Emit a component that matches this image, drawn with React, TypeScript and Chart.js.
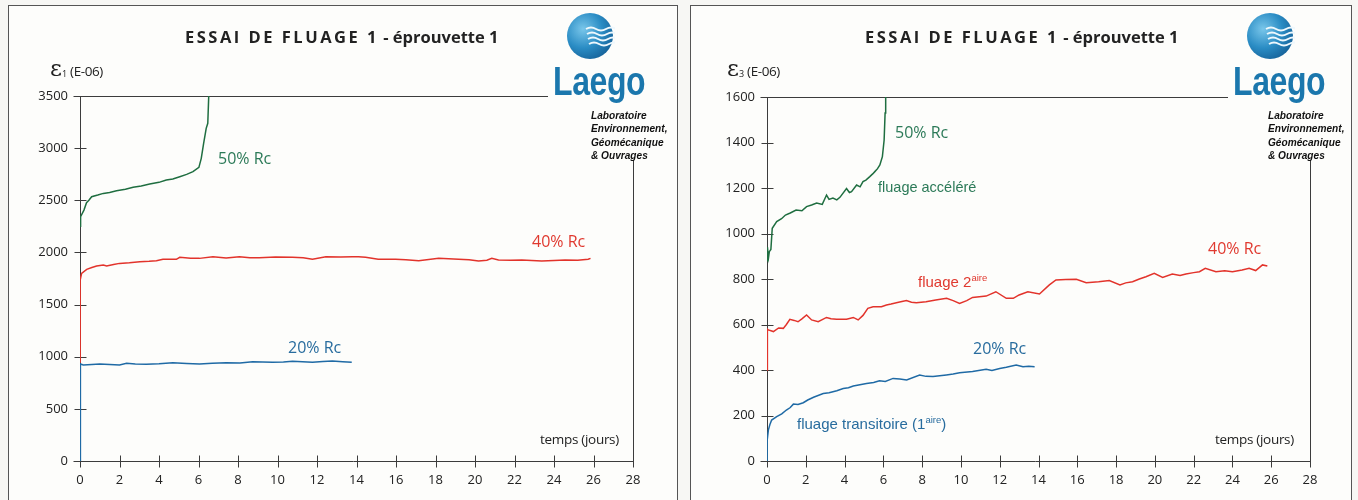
import React, { useEffect, useRef } from "react";
import { Chart, registerables } from "chart.js";
Chart.register(...registerables);

// ---------- data ----------
const xTicks = [0, 2, 4, 6, 8, 10, 12, 14, 16, 18, 20, 22, 24, 26, 28];
const leftYTicks = [0, 500, 1000, 1500, 2000, 2500, 3000, 3500];
const rightYTicks = [0, 200, 400, 600, 800, 1000, 1200, 1400, 1600];

// left panel: epsilon 1 (E-06) vs days
const left50T = [0, 0.03, 0.2, 0.33, 0.45, 0.59, 0.9, 1.18, 1.5, 1.85, 2.3, 2.69, 3.1, 3.53, 4.0, 4.37, 4.7, 5.05, 5.4, 5.72, 6.02, 6.14, 6.26, 6.39, 6.47, 6.52, 6.56];
const left50V = [2250, 2342, 2406, 2477, 2500, 2534, 2550, 2566, 2575, 2592, 2605, 2624, 2636, 2656, 2672, 2694, 2705, 2726, 2748, 2774, 2816, 2902, 3046, 3190, 3238, 3509, 3700];

const left40T = [0, 0.01, 0.08, 0.34, 0.6, 0.84, 1.18, 1.35, 1.7, 2.0, 2.5, 3.03, 3.5, 3.87, 4.2, 4.88, 5.05, 5.6, 6.05, 6.73, 7.4, 8.07, 8.6, 9.08, 9.9, 10.76, 11.3, 11.77, 12.45, 13.2, 13.79, 14.1, 14.46, 15.1, 15.98, 16.5, 17.15, 18.16, 19.17, 19.7, 20.18, 20.6, 20.85, 21.19, 21.8, 22.37, 23.38, 24.0, 24.56, 25.2, 25.73, 25.85];
const left40V = [950, 1735, 1799, 1838, 1855, 1870, 1879, 1870, 1885, 1895, 1900, 1911, 1915, 1921, 1934, 1934, 1953, 1945, 1943, 1959, 1946, 1959, 1950, 1949, 1955, 1953, 1948, 1934, 1959, 1955, 1959, 1959, 1953, 1934, 1934, 1930, 1921, 1943, 1934, 1930, 1918, 1925, 1943, 1927, 1925, 1927, 1918, 1922, 1927, 1925, 1934, 1943];

const left20T = [0, 0.02, 0.17, 0.6, 1.0, 1.5, 2.0, 2.36, 2.8, 3.36, 4.0, 4.7, 5.4, 6.05, 6.7, 7.4, 8.1, 8.74, 9.75, 10.3, 10.76, 11.77, 12.3, 12.78, 13.3, 13.76];
const left20V = [0, 930, 920, 925, 930, 925, 920, 937, 930, 927, 933, 943, 935, 930, 938, 943, 940, 952, 946, 950, 956, 946, 955, 959, 952, 946];

// right panel: epsilon 3 (E-06) vs days
const right50T = [0, 0.02, 0.08, 0.12, 0.2, 0.27, 0.5, 0.75, 0.95, 1.2, 1.5, 1.8, 2.04, 2.3, 2.56, 2.85, 3.07, 3.2, 3.4, 3.6, 3.76, 4.1, 4.25, 4.36, 4.62, 4.8, 4.95, 5.1, 5.3, 5.45, 5.56, 5.7, 5.82, 5.95, 6.04, 6.09, 6.12, 6.16];
const right50V = [880, 940, 895, 920, 930, 1023, 1052, 1065, 1081, 1090, 1103, 1100, 1118, 1125, 1134, 1128, 1169, 1150, 1156, 1148, 1159, 1198, 1180, 1184, 1213, 1205, 1228, 1235, 1250, 1262, 1272, 1285, 1301, 1338, 1411, 1530, 1601, 1700];

const right40T = [0, 0.02, 0.07, 0.33, 0.6, 0.84, 1.0, 1.18, 1.4, 1.6, 1.8, 2.04, 2.3, 2.64, 3.07, 3.3, 3.59, 4.1, 4.45, 4.7, 4.95, 5.2, 5.47, 5.9, 6.16, 6.4, 6.67, 6.9, 7.19, 7.45, 7.7, 8.2, 8.7, 9.26, 9.6, 9.93, 10.3, 10.6, 11.3, 11.8, 12.34, 12.7, 13.0, 13.45, 14.05, 14.56, 14.9, 15.4, 15.95, 16.46, 17.1, 17.65, 18.2, 18.5, 18.85, 19.2, 19.54, 19.97, 20.4, 20.9, 21.3, 21.6, 22.0, 22.3, 22.6, 23.15, 23.6, 24.0, 24.5, 24.86, 25.2, 25.55, 25.8];
const right40V = [400, 580, 576, 569, 585, 583, 600, 623, 618, 612, 625, 642, 620, 612, 631, 625, 623, 623, 631, 620, 640, 671, 678, 678, 686, 690, 696, 700, 705, 698, 696, 700, 708, 715, 705, 693, 705, 719, 725, 744, 715, 715, 730, 744, 734, 774, 796, 798, 799, 784, 788, 793, 774, 783, 788, 800, 810, 825, 807, 822, 815, 822, 828, 832, 847, 832, 836, 832, 840, 847, 837, 862, 857];

const right20T = [0, 0.01, 0.07, 0.15, 0.24, 0.5, 0.76, 1.0, 1.2, 1.36, 1.6, 1.87, 2.1, 2.4, 2.9, 3.2, 3.6, 3.93, 4.2, 4.45, 5.13, 5.5, 5.8, 6.1, 6.5, 6.85, 7.2, 7.87, 8.2, 8.56, 9.25, 9.6, 9.93, 10.6, 11.3, 11.6, 12.0, 12.34, 12.85, 13.2, 13.5, 13.8];
const right20V = [0, 92, 136, 160, 180, 195, 207, 224, 235, 250, 248, 256, 268, 280, 297, 300, 309, 319, 322, 330, 341, 345, 353, 350, 363, 360, 356, 378, 372, 371, 378, 382, 388, 393, 403, 398, 407, 412, 422, 414, 416, 414];

// ---------- styles ----------
const GREEN = "#1f6e40";
const RED = "#e2332b";
const BLUE = "#1f6aa5";
const GREEN_TXT = "#2c7a58";
const RED_TXT = "#e0392f";
const BLUE_TXT = "#286c9e";
const AXIS = "#3c3c3c";
const GOTHIC = "'Open Sans', 'DejaVu Sans', sans-serif";
const ARIAL = "'Liberation Sans', Arial, sans-serif";

function pts(t: number[], v: number[]) {
  const n = Math.min(t.length, v.length);
  const out: { x: number; y: number }[] = [];
  for (let i = 0; i < n; i++) out.push({ x: t[i], y: v[i] });
  return out;
}

function axesPlugin(topLineEnd: number, rightLineTop: number) {
  return {
    id: "customAxes",
    beforeDatasetsDraw(chart: any) {
      const { ctx, chartArea: a, scales } = chart;
      ctx.save();
      ctx.strokeStyle = AXIS;
      ctx.lineWidth = 1;
      ctx.beginPath();
      const L = Math.round(a.left) + 0.5;
      const R = Math.round(a.right) + 0.5;
      const T = Math.round(a.top) + 0.5;
      const B = Math.round(a.bottom) + 0.5;
      ctx.moveTo(L, a.top);
      ctx.lineTo(L, a.bottom);
      ctx.moveTo(L - 7, T);
      ctx.lineTo(topLineEnd, T);
      ctx.moveTo(L - 7, B);
      ctx.lineTo(R, B);
      ctx.moveTo(R, rightLineTop);
      ctx.lineTo(R, B);
      scales.y.ticks.forEach((t: any) => {
        const y = Math.round(scales.y.getPixelForValue(t.value)) + 0.5;
        ctx.moveTo(L - 6, y);
        ctx.lineTo(L + 6, y);
      });
      scales.x.ticks.forEach((t: any) => {
        const x = Math.round(scales.x.getPixelForValue(t.value)) + 0.5;
        ctx.moveTo(x, B - 6);
        ctx.lineTo(x, B + 6);
      });
      ctx.stroke();
      ctx.restore();
    },
  };
}

type PanelProps = {
  left: number;
  width: number;
  yTicks: number[];
  yMax: number;
  axisWidth: number;
  padRight: number;
  padTop: number;
  series: { data: { x: number; y: number }[]; color: string }[];
  topLineEnd: number;
  rightLineTop: number;
};

function ChartPanel(p: PanelProps) {
  const ref = useRef<HTMLCanvasElement | null>(null);
  useEffect(() => {
    if (!ref.current) return;
    const chart = new Chart(ref.current, {
      type: "scatter",
      data: {
        datasets: p.series.map((s) => ({
          data: s.data,
          showLine: true,
          borderColor: s.color,
          backgroundColor: s.color,
          borderWidth: 1.5,
          pointRadius: 0,
          tension: 0,
        })),
      },
      options: {
        responsive: false,
        animation: false,
        events: [],
        layout: { padding: { left: 0, right: p.padRight, top: p.padTop, bottom: 0 } },
        plugins: { legend: { display: false }, tooltip: { enabled: false } },
        scales: {
          x: {
            type: "linear",
            min: 0,
            max: 28,
            afterBuildTicks: (s: any) => {
              s.ticks = xTicks.map((v) => ({ value: v }));
            },
            afterFit: (s: any) => {
              s.height = 39;
            },
            grid: { display: false, drawTicks: false },
            border: { display: false },
            ticks: {
              padding: 11,
              color: "#222",
              font: { family: GOTHIC, size: 13 },
              maxRotation: 0,
              autoSkip: false,
              callback: (v: any) => String(v),
            },
          },
          y: {
            type: "linear",
            min: 0,
            max: p.yMax,
            afterBuildTicks: (s: any) => {
              s.ticks = p.yTicks.map((v) => ({ value: v }));
            },
            afterFit: (s: any) => {
              s.width = p.axisWidth;
            },
            grid: { display: false, drawTicks: false },
            border: { display: false },
            ticks: {
              padding: 12,
              color: "#222",
              font: { family: GOTHIC, size: 13 },
              autoSkip: false,
              callback: (v: any) => String(v),
            },
          },
        },
      },
      plugins: [axesPlugin(p.topLineEnd, p.rightLineTop)],
    } as any);
    return () => chart.destroy();
  }, []);
  return (
    <canvas
      ref={ref}
      width={p.width}
      height={500}
      style={{ position: "absolute", left: p.left, top: 0, width: p.width, height: 500 }}
    />
  );
}

function Txt(props: {
  x: number;
  y: number;
  color?: string;
  size?: number;
  family?: string;
  weight?: number;
  italic?: boolean;
  spacing?: number;
  scaleX?: number;
  children: any;
}) {
  return (
    <div
      style={{
        position: "absolute",
        left: props.x,
        top: props.y,
        transform: `translateY(-50%) scaleX(${props.scaleX ?? 1})`,
        transformOrigin: "left center",
        whiteSpace: "nowrap",
        lineHeight: 1,
        color: props.color ?? "#222",
        fontSize: props.size ?? 14,
        fontFamily: props.family ?? GOTHIC,
        fontWeight: props.weight ?? 400,
        fontStyle: props.italic ? "italic" : "normal",
        letterSpacing: props.spacing ?? 0,
      }}
    >
      {props.children}
    </div>
  );
}

function Logo(props: { cx: number; cy: number; laegoX: number; smallX: number; id: string }) {
  const r = 23;
  return (
    <>
      <svg
        width={2 * r + 4}
        height={2 * r + 4}
        style={{ position: "absolute", left: props.cx - r - 2, top: props.cy - r - 2 }}
      >
        <defs>
          <radialGradient id={"g" + props.id} cx="35%" cy="35%" r="75%">
            <stop offset="0%" stopColor="#79c6ea" />
            <stop offset="55%" stopColor="#2a8cc4" />
            <stop offset="100%" stopColor="#155f96" />
          </radialGradient>
        </defs>
        <circle cx={r + 2} cy={r + 2} r={r} fill={`url(#g${props.id})`} />
        {[18, 23, 28, 33].map((y, i) => (
          <path
            key={i}
            d={`M ${r - 2 + i} ${y} q 5 -3 10 0 t 10 0 t 10 0`}
            stroke="#eef8fd"
            strokeWidth={2}
            fill="none"
          />
        ))}
      </svg>
      <div
        style={{
          position: "absolute",
          left: props.laegoX,
          top: 59,
          fontFamily: ARIAL,
          fontWeight: 700,
          fontSize: 40,
          lineHeight: "44px",
          color: "#1b77ad",
          transform: "scaleX(0.8)",
          transformOrigin: "left top",
          letterSpacing: -0.5,
        }}
      >
        Laego
      </div>
      {["Laboratoire", "Environnement,", "Géomécanique", "& Ouvrages"].map((s, i) => (
        <Txt
          key={i}
          x={props.smallX}
          y={115 + i * 13.3}
          size={11}
          family={ARIAL}
          weight={700}
          italic
          color="#111"
          scaleX={0.92}
        >
          {s}
        </Txt>
      ))}
    </>
  );
}

function Title(props: { x: number }) {
  return (
    <Txt x={props.x} y={37} size={16.5} weight={700} color="#222" family={GOTHIC}>
      <span style={{ letterSpacing: 2.5 }}>ESSAI DE FLUAGE 1</span>
      <span style={{ letterSpacing: 0 }}> - éprouvette 1</span>
    </Txt>
  );
}

function EpsLabel(props: { x: number; sub: string }) {
  return (
    <div
      style={{
        position: "absolute",
        left: props.x,
        top: 57,
        whiteSpace: "nowrap",
        lineHeight: 1,
        color: "#222",
      }}
    >
      <span style={{ fontFamily: "'DejaVu Serif', serif", fontSize: 23 }}>ε</span>
      <span style={{ fontFamily: GOTHIC, fontSize: 9, verticalAlign: "-1px" }}>{props.sub}</span>
      <span style={{ fontFamily: GOTHIC, fontSize: 13.5, marginLeft: 3, letterSpacing: -0.4 }}>(E-06)</span>
    </div>
  );
}

export default function App() {
  const sup = { fontSize: 9.5, verticalAlign: "6px" } as any;
  return (
    <div
      style={{
        position: "fixed",
        left: 0,
        top: 0,
        width: 1358,
        height: 500,
        background: "#f7f7f4",
        overflow: "hidden",
      }}
    >
      {/* panel frames */}
      <div
        style={{
          position: "absolute",
          left: 8,
          top: 5,
          width: 668,
          height: 520,
          border: "1.5px solid #555",
          background: "#fdfdfb",
        }}
      />
      <div
        style={{
          position: "absolute",
          left: 690,
          top: 5,
          width: 660,
          height: 520,
          border: "1.5px solid #555",
          background: "#fdfdfb",
        }}
      />

      <ChartPanel
        left={0}
        width={680}
        yTicks={leftYTicks}
        yMax={3500}
        axisWidth={80}
        padRight={47}
        padTop={96}
        series={[
          { data: pts(left20T, left20V), color: BLUE },
          { data: pts(left40T, left40V), color: RED },
          { data: pts(left50T, left50V), color: GREEN },
        ]}
        topLineEnd={548}
        rightLineTop={160}
      />
      <ChartPanel
        left={680}
        width={678}
        yTicks={rightYTicks}
        yMax={1600}
        axisWidth={87}
        padRight={48}
        padTop={97}
        series={[
          { data: pts(right20T, right20V), color: BLUE },
          { data: pts(right40T, right40V), color: RED },
          { data: pts(right50T, right50V), color: GREEN },
        ]}
        topLineEnd={548}
        rightLineTop={160}
      />

      {/* left panel texts */}
      <Title x={185} />
      <EpsLabel x={50} sub="1" />
      <Logo cx={590} cy={36} laegoX={553} smallX={591} id="l" />
      <Txt x={218} y={158} size={16} color={GREEN_TXT}>50% Rc</Txt>
      <Txt x={532} y={241} size={16} color={RED_TXT}>40% Rc</Txt>
      <Txt x={288} y={347} size={16} color={BLUE_TXT}>20% Rc</Txt>
      <Txt x={540} y={440} size={13.5} color="#222" spacing={-0.3}>temps (jours)</Txt>

      {/* right panel texts */}
      <Title x={865} />
      <EpsLabel x={727} sub="3" />
      <Logo cx={1270} cy={36} laegoX={1233} smallX={1268} id="r" />
      <Txt x={895} y={132} size={16} color={GREEN_TXT}>50% Rc</Txt>
      <Txt x={878} y={187} size={14.5} color={GREEN_TXT} family={ARIAL}>fluage accéléré</Txt>
      <Txt x={1208} y={248} size={16} color={RED_TXT}>40% Rc</Txt>
      <Txt x={918} y={281} size={15} color={RED_TXT} family={ARIAL}>
        fluage 2<span style={sup}>aire</span>
      </Txt>
      <Txt x={973} y={348} size={16} color={BLUE_TXT}>20% Rc</Txt>
      <Txt x={797} y={423} size={15} color={BLUE_TXT} family={ARIAL}>
        fluage transitoire (1<span style={sup}>aire</span>)
      </Txt>
      <Txt x={1215} y={440} size={13.5} color="#222" spacing={-0.3}>temps (jours)</Txt>
    </div>
  );
}
